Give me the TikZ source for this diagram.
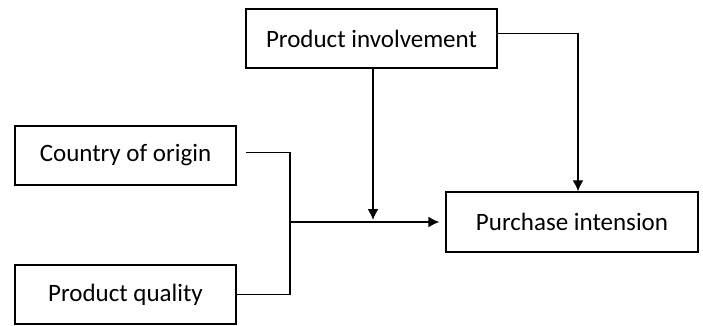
\documentclass[tikz,border=0pt]{standalone}
\usepackage{fontspec}
\setmainfont{Carlito}
\usepackage{tikz}
\usetikzlibrary{positioning}
\usetikzlibrary{arrows.meta}

\begin{document}
\begin{tikzpicture}
    [
    x=1pt,y=1pt,
    box/.style={draw,line width=1.3pt,inner sep=0pt,font=\fontsize{25}{29}\selectfont},
    link/.style={line width=1.6pt},
    arr/.style={link,-{Latex[length=11pt,width=11pt]}},
    ]
    \useasboundingbox (0,0) rectangle (703,325);
    \node (inv) at (371.5,286.5) [box,minimum width=251pt,minimum height=59pt] {Product involvement};
    \node (coo) at (125.5,169.5) [box,minimum width=221pt,minimum height=59pt] {Country of origin};
    \node (qual) at (125.5,30.5) [box,minimum width=221pt,minimum height=59pt] {Product quality};
    \node (pur) at (572,103) [box,minimum width=252pt,minimum height=60pt] {Purchase intension};

    \coordinate (split) at (290,103);
    \draw [link] ([xshift=9pt,yshift=3pt]coo.east) -| (split) |- (qual.east);
    \draw [arr,shorten >=6pt] (split) to (pur.west);
    \draw [arr,shorten >=2pt] ([xshift=1.5pt]inv.south) to ([xshift=1.5pt]inv.south |- pur.west);
    \draw [arr] ([yshift=5pt]inv.east) -| ([xshift=6pt]pur.north);
\end{tikzpicture}
\end{document}
